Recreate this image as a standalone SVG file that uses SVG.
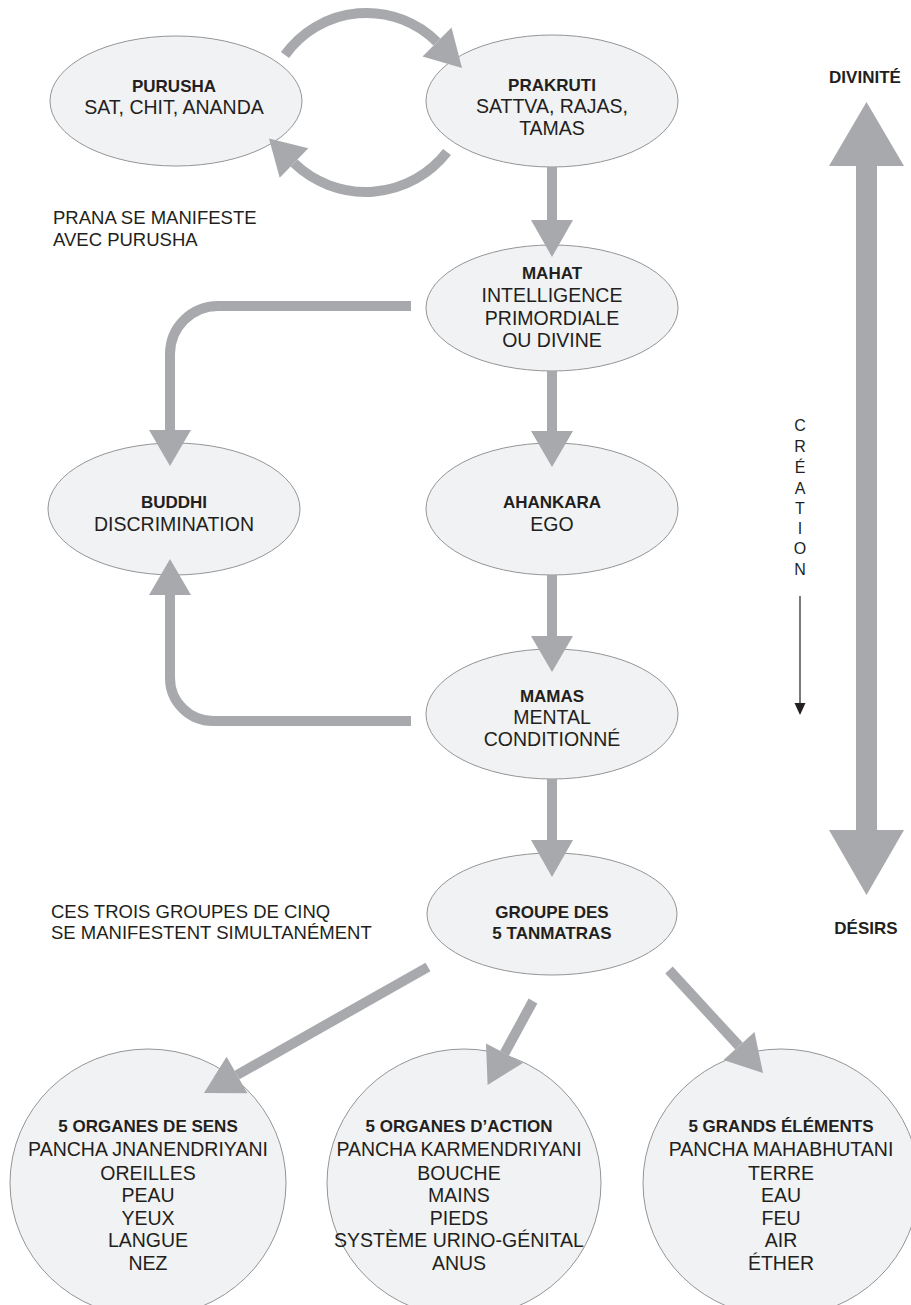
<svg xmlns="http://www.w3.org/2000/svg" width="911" height="1305" viewBox="0 0 911 1305">
<style>
.bg{fill:#ffffff}
.node{fill:#f1f2f3;stroke:#939598;stroke-width:1}
.c{fill:none;stroke:#a7a9ac;stroke-width:10;stroke-linecap:butt}
.h{fill:#a7a9ac;stroke:none}
text{font-family:"Liberation Sans",Arial,sans-serif;fill:#231f20}
.t{font-size:19.5px;text-anchor:middle}
.b{font-size:17px;font-weight:bold;text-anchor:middle}
.l{font-size:18.5px}
.v{font-size:16px;text-anchor:middle}
</style>
<rect class="bg" x="0" y="0" width="911" height="1305"/>

<g id="purusha">
  <ellipse class="node" cx="176" cy="101" rx="126" ry="65"/>
  <text class="b" x="174" y="92">PURUSHA</text>
  <text class="t" x="174" y="114">SAT, CHIT, ANANDA</text>
</g>
<g id="prakruti">
  <ellipse class="node" cx="552" cy="101" rx="126" ry="66"/>
  <text class="b" x="552" y="91">PRAKRUTI</text>
  <text class="t" x="552" y="113">SATTVA, RAJAS,</text>
  <text class="t" x="552" y="135">TAMAS</text>
</g>
<g id="prana-note">
  <text class="l" x="53" y="224">PRANA SE MANIFESTE</text>
  <text class="l" x="53" y="246">AVEC PURUSHA</text>
</g>
<g id="mahat">
  <ellipse class="node" cx="552" cy="308" rx="126" ry="63"/>
  <text class="b" x="552" y="279">MAHAT</text>
  <text class="t" x="552" y="302">INTELLIGENCE</text>
  <text class="t" x="552" y="325">PRIMORDIALE</text>
  <text class="t" x="552" y="347">OU DIVINE</text>
</g>
<g id="buddhi">
  <ellipse class="node" cx="174" cy="509" rx="126" ry="66"/>
  <text class="b" x="174" y="508">BUDDHI</text>
  <text class="t" x="174" y="531">DISCRIMINATION</text>
</g>
<g id="ahankara">
  <ellipse class="node" cx="552" cy="509" rx="126" ry="66"/>
  <text class="b" x="552" y="508">AHANKARA</text>
  <text class="t" x="552" y="531">EGO</text>
</g>
<g id="mamas">
  <ellipse class="node" cx="552" cy="714" rx="126" ry="65"/>
  <text class="b" x="552" y="702">MAMAS</text>
  <text class="t" x="552" y="724">MENTAL</text>
  <text class="t" x="552" y="746">CONDITIONNÉ</text>
</g>
<g id="groupe">
  <ellipse class="node" cx="552" cy="914" rx="125" ry="61"/>
  <text class="b" x="552" y="918">GROUPE DES</text>
  <text class="b" x="552" y="939">5 TANMATRAS</text>
</g>
<g id="groupes-note">
  <text class="l" x="51" y="918">CES TROIS GROUPES DE CINQ</text>
  <text class="l" x="51" y="939">SE MANIFESTENT SIMULTANÉMENT</text>
</g>
<g id="organes-sens">
  <ellipse class="node" cx="148" cy="1183" rx="138" ry="134"/>
  <text class="b" x="148" y="1132">5 ORGANES DE SENS</text>
  <text class="t" x="148" y="1156">PANCHA JNANENDRIYANI</text>
  <text class="t" x="148" y="1180">OREILLES</text>
  <text class="t" x="148" y="1202">PEAU</text>
  <text class="t" x="148" y="1225">YEUX</text>
  <text class="t" x="148" y="1247">LANGUE</text>
  <text class="t" x="148" y="1270">NEZ</text>
</g>
<g id="organes-action">
  <ellipse class="node" cx="464" cy="1183" rx="137" ry="134"/>
  <text class="b" x="459" y="1132">5 ORGANES D’ACTION</text>
  <text class="t" x="459" y="1156">PANCHA KARMENDRIYANI</text>
  <text class="t" x="459" y="1180">BOUCHE</text>
  <text class="t" x="459" y="1202">MAINS</text>
  <text class="t" x="459" y="1225">PIEDS</text>
  <text class="t" x="459" y="1247">SYSTÈME URINO-GÉNITAL</text>
  <text class="t" x="459" y="1270">ANUS</text>
</g>
<g id="grands-elements">
  <ellipse class="node" cx="781" cy="1183" rx="138" ry="134"/>
  <text class="b" x="781" y="1132">5 GRANDS ÉLÉMENTS</text>
  <text class="t" x="781" y="1156">PANCHA MAHABHUTANI</text>
  <text class="t" x="781" y="1180">TERRE</text>
  <text class="t" x="781" y="1202">EAU</text>
  <text class="t" x="781" y="1225">FEU</text>
  <text class="t" x="781" y="1247">AIR</text>
  <text class="t" x="781" y="1270">ÉTHER</text>
</g>

<g id="axis">
  <rect class="h" x="856" y="165" width="21" height="666"/>
  <polygon class="h" points="866.5,102 829,166 904,166"/>
  <polygon class="h" points="829,830 904,830 866.5,895"/>
  <text class="b" x="865" y="83">DIVINITÉ</text>
  <text class="b" x="866" y="934">DÉSIRS</text>
</g>

<g id="creation">
  <text class="v" x="800" y="431">C</text>
  <text class="v" x="800" y="452">R</text>
  <text class="v" x="800" y="473">É</text>
  <text class="v" x="800" y="494">A</text>
  <text class="v" x="800" y="514">T</text>
  <text class="v" x="800" y="534">I</text>
  <text class="v" x="800" y="554">O</text>
  <text class="v" x="800" y="575">N</text>
  <line x1="800" y1="596" x2="800" y2="705" stroke="#231f20" stroke-width="1.2"/>
  <polygon points="794.5,703 805.5,703 800,715" fill="#231f20"/>
</g>

<g id="connectors">
  <path class="c" d="M285 55 A100 100 0 0 1 437 42"/>
  <polygon class="h" points="462,68 451.5,27.4 422.5,56.6"/>
  <path class="c" d="M447 152 A103 103 0 0 1 294 163"/>
  <polygon class="h" points="269,138.6 279.7,177.7 308.3,148.3"/>
  <path class="c" d="M552 167 V221"/>
  <polygon class="h" points="531,220 573,220 552,257"/>
  <path class="c" d="M552 371 V432"/>
  <polygon class="h" points="531,431 573,431 552,467"/>
  <path class="c" d="M552 575 V637"/>
  <polygon class="h" points="531,636 573,636 552,672"/>
  <path class="c" d="M552 779 V841"/>
  <polygon class="h" points="531,840 573,840 552,877"/>
  <path class="c" d="M411 306 H218 A48 48 0 0 0 170 354 V431"/>
  <polygon class="h" points="149,430 191,430 170,466"/>
  <path class="c" d="M411 721 H213 A43 43 0 0 1 170 678 V594"/>
  <polygon class="h" points="149,595 191,595 170,559"/>
  <path class="c" d="M428 967 L237 1075"/>
  <polygon class="h" points="204,1093 247.4,1093.3 226.6,1056.7"/>
  <path class="c" d="M533 1001 L504.5 1053.3"/>
  <polygon class="h" points="487.6,1085 523,1063 486,1043.4"/>
  <path class="c" d="M669 970 L739 1046"/>
  <polygon class="h" points="763,1073 754.5,1032 723.5,1060"/>
</g>
</svg>
